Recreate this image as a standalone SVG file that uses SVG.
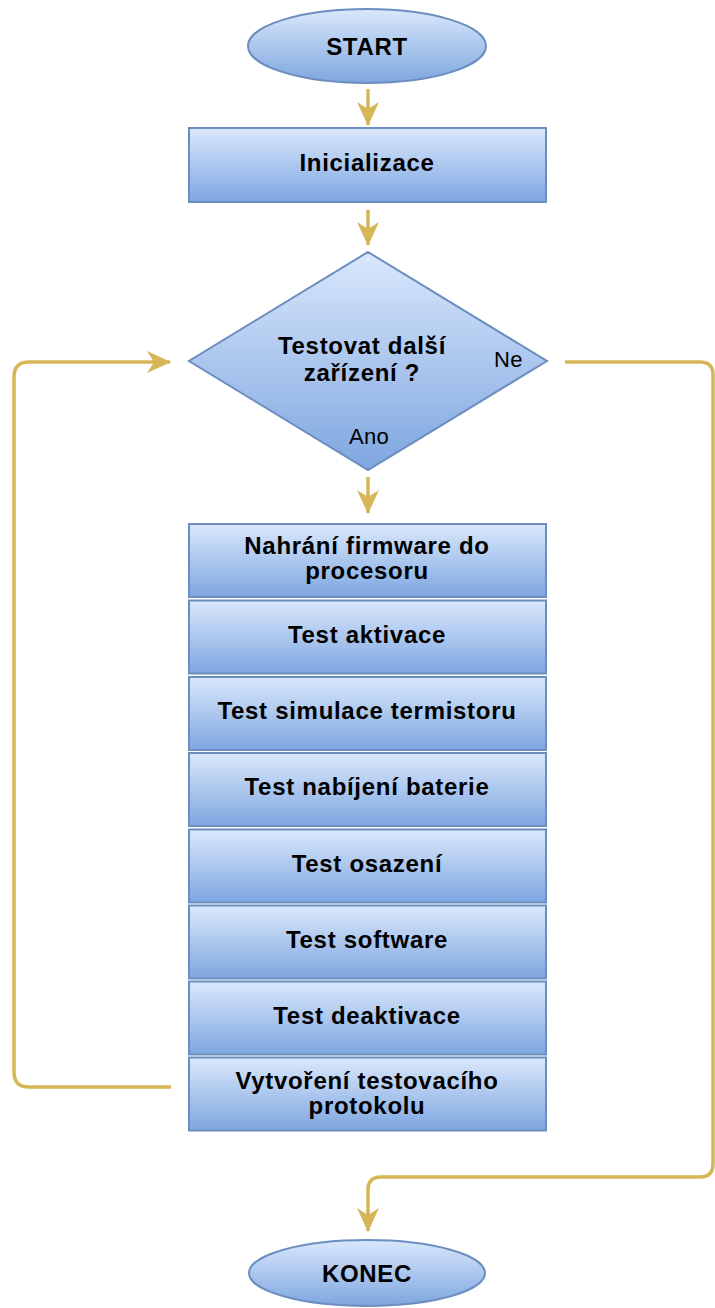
<svg xmlns="http://www.w3.org/2000/svg" width="715" height="1308" viewBox="0 0 715 1308">
<style>
.shape{fill:url(#g);stroke:#6c8ebf;stroke-width:2}
.t{font-family:"Liberation Sans",Arial,sans-serif;font-weight:bold;font-size:24px;letter-spacing:0.7px;fill:#000;text-anchor:middle}
.l{font-family:"Liberation Sans",Arial,sans-serif;font-size:22px;letter-spacing:0.3px;fill:#000}
.c{fill:none;stroke:#d6b656;stroke-width:3.5}
</style>
<defs>
<linearGradient id="g" x1="0" y1="0" x2="0" y2="1">
<stop offset="0" stop-color="#dae8fc"/>
<stop offset="1" stop-color="#7ea6e0"/>
</linearGradient>
<marker id="a" markerUnits="userSpaceOnUse" viewBox="0 0 24 24" markerWidth="24" markerHeight="24" refX="23" refY="12" orient="auto">
<path d="M0,1 L24,12 L0,23 L7,12 Z" fill="#d6b656"/>
</marker>
</defs>
<g id="connectors">
<path class="c" d="M368,89 L368,125" marker-end="url(#a)"/>
<path class="c" d="M368,210 L368,245" marker-end="url(#a)"/>
<path class="c" d="M368,477 L368,513" marker-end="url(#a)"/>
<path class="c" d="M171,1087 L29,1087 Q14,1087 14,1072 L14,377 Q14,362 29,362 L170,362" marker-end="url(#a)"/>
<path class="c" d="M565,362 L700,362 Q713,362 713,375 L713,1164 Q713,1177 700,1177 L381,1177 Q368,1177 368,1190 L368,1231" marker-end="url(#a)"/>
</g>
<g id="start">
<ellipse class="shape" cx="367" cy="46" rx="119" ry="37"/>
<text class="t" x="367" y="55">START</text>
</g>
<g id="init">
<rect class="shape" x="189" y="128" width="357" height="74"/>
<text class="t" x="367" y="171">Inicializace</text>
</g>
<g id="decision">
<polygon class="shape" points="368,252 547,361 368,470 189,361"/>
<text class="t" x="362" y="354">Testovat další</text>
<text class="t" x="362" y="381">zařízení ?</text>
<text class="l" x="494" y="367">Ne</text>
<text class="l" x="349" y="444">Ano</text>
</g>
<g id="n1">
<rect class="shape" x="189" y="524" width="357" height="73"/>
<text class="t" x="367" y="554">Nahrání firmware do</text>
<text class="t" x="367" y="579">procesoru</text>
</g>
<g id="n2">
<rect class="shape" x="189" y="600.5" width="357" height="73"/>
<text class="t" x="367" y="643">Test aktivace</text>
</g>
<g id="n3">
<rect class="shape" x="189" y="677" width="357" height="73"/>
<text class="t" x="367" y="719">Test simulace termistoru</text>
</g>
<g id="n4">
<rect class="shape" x="189" y="753" width="357" height="73"/>
<text class="t" x="367" y="795">Test nabíjení baterie</text>
</g>
<g id="n5">
<rect class="shape" x="189" y="829.5" width="357" height="73"/>
<text class="t" x="367" y="872">Test osazení</text>
</g>
<g id="n6">
<rect class="shape" x="189" y="905.5" width="357" height="73"/>
<text class="t" x="367" y="948">Test software</text>
</g>
<g id="n7">
<rect class="shape" x="189" y="981.5" width="357" height="73"/>
<text class="t" x="367" y="1024">Test deaktivace</text>
</g>
<g id="n8">
<rect class="shape" x="189" y="1057.5" width="357" height="73"/>
<text class="t" x="367" y="1089">Vytvoření testovacího</text>
<text class="t" x="367" y="1114">protokolu</text>
</g>
<g id="end">
<ellipse class="shape" cx="367" cy="1273" rx="118" ry="33"/>
<text class="t" x="367" y="1282">KONEC</text>
</g>
</svg>
